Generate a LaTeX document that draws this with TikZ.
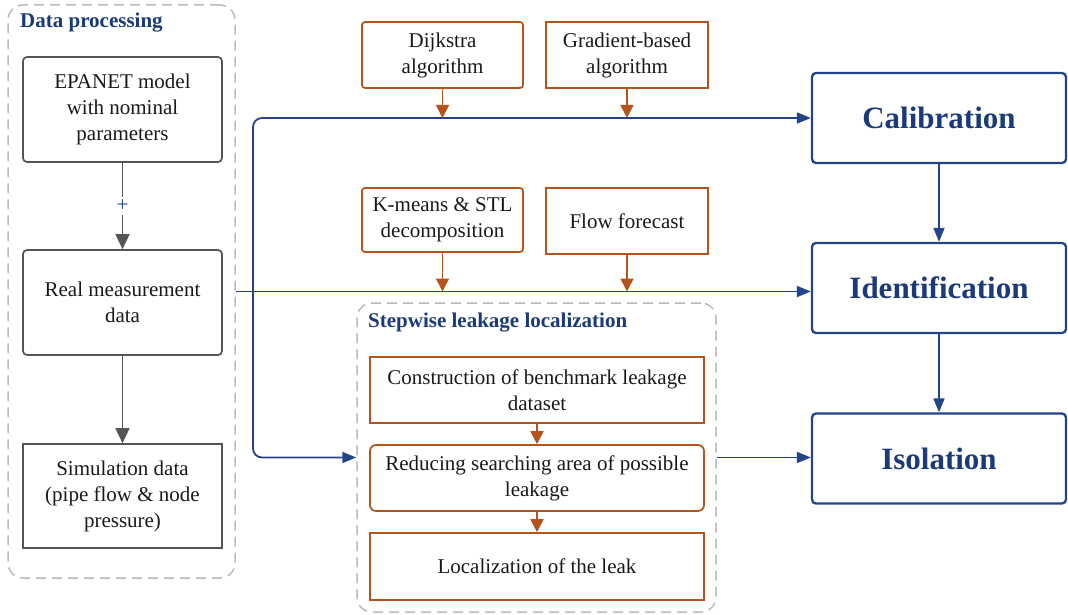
\documentclass[tikz,border=0pt]{standalone}
\usepackage{fontspec}
\setmainfont{Liberation Serif}
\usetikzlibrary{arrows.meta}
\definecolor{navy}{HTML}{1B3A7A}
\definecolor{navyline}{HTML}{24448A}
\definecolor{rust}{HTML}{B4541C}
\definecolor{grayc}{HTML}{555555}
\definecolor{dashc}{HTML}{BBBBBB}
\tikzset{
  body/.style={font=\fontsize{21}{26}\selectfont, align=center, text=black!90},
  graybox/.style={body, draw=grayc, line width=1.7pt, rounded corners=4pt, minimum width=199pt, minimum height=105pt, inner sep=2pt},
  rustbox/.style={body, draw=rust, line width=1.7pt, rounded corners=3pt, inner sep=2pt},
  bluebox/.style={draw=navyline, line width=2.3pt, rounded corners=4pt, minimum width=254pt, minimum height=90pt, text=navy, font=\fontsize{31}{36}\selectfont\bfseries},
  container/.style={draw=dashc, line width=1.5pt, dash pattern=on 10pt off 6pt, rounded corners=15pt},
  title/.style={text=navy, font=\fontsize{21}{25}\selectfont\bfseries, anchor=west, inner sep=0pt},
  grayarrow/.style={draw=grayc, line width=1.7pt, -{Triangle[width=14pt,length=15pt]}},
  rustarrow/.style={draw=rust, line width=1.7pt, -{Triangle[width=13pt,length=13pt]}},
  bluearrow/.style={draw=navyline, line width=1.8pt, -{Triangle[width=11pt,length=14pt]}},
}
\begin{document}
\begin{tikzpicture}[x=1pt,y=-1pt]
\useasboundingbox (0,0) rectangle (1068,615);
% containers
\node[container, minimum width=227pt, minimum height=573pt] (dp) at (121.5,291.5) {};
\node[title] (dpt) at (20,23) {Data processing};
\node[container, minimum width=359pt, minimum height=309pt] (sc) at (536.5,457.5) {};
\node[title] (sct) at (368,323) {Stepwise leakage localization};
% data processing boxes
\node[graybox] (ep) at (122.5,109.5) {EPANET model\\with nominal\\parameters};
\node[graybox] (rm) at (122.5,302.5) {Real measurement\\data};
\node[graybox, rounded corners=0pt, minimum height=104pt] (sim) at (122.5,496) {Simulation data\\(pipe flow \& node\\pressure)};
\draw[grayarrow] (ep) -- node[fill=white, text=navyline, inner sep=3pt, font=\fontsize{21}{21}\selectfont] {+} (rm);
\draw[grayarrow] (rm) -- (sim);
% orange method boxes
\node[rustbox, minimum width=161pt, minimum height=66pt] (dij) at (442.5,55) {Dijkstra\\algorithm};
\node[rustbox, rounded corners=0pt, minimum width=162pt, minimum height=66pt] (gra) at (627,55) {Gradient-based\\algorithm};
\node[rustbox, minimum width=161pt, minimum height=64pt] (km) at (442.5,220) {K-means \& STL\\decomposition};
\node[rustbox, rounded corners=0pt, minimum width=162pt, minimum height=66pt] (ff) at (627,221) {Flow forecast};
% stepwise boxes
\node[rustbox, rounded corners=0pt, minimum width=334pt, minimum height=66pt] (con) at (537,390) {Construction of benchmark leakage\\dataset};
\node[rustbox, rounded corners=6pt, minimum width=334pt, minimum height=66pt] (red) at (537,478) {Reducing searching area of possible\\leakage};
\node[rustbox, rounded corners=0pt, minimum width=334pt, minimum height=67pt] (loc) at (537,566.5) {Localization of the leak};
\draw[rustarrow] (con) -- (red);
\draw[rustarrow] (red) -- (loc);
% blue stage boxes
\node[bluebox] (cal) at (939,118) {Calibration};
\node[bluebox] (ide) at (939,288) {Identification};
\node[bluebox] (iso) at (939,458.5) {Isolation};
\draw[bluearrow] (cal) -- (ide);
\draw[bluearrow] (ide) -- (iso);
% blue flow lines
\coordinate (split) at (253,291.5);
\draw[bluearrow] (dp.east) -- (dp.east -| ide.west);
\draw[bluearrow, rounded corners=9pt] (split) |- (cal.west);
\draw[bluearrow, rounded corners=9pt] (split) |- (sc.west);
\draw[bluearrow] (sc.east) -- (sc.east -| iso.west);
% orange arrows to blue lines
\draw[rustarrow] (dij.south) -- (dij.south |- cal.west);
\draw[rustarrow] (gra.south) -- (gra.south |- cal.west);
\draw[rustarrow] (km.south) -- (km.south |- dp.east);
\draw[rustarrow] (ff.south) -- (ff.south |- dp.east);
\end{tikzpicture}
\end{document}
